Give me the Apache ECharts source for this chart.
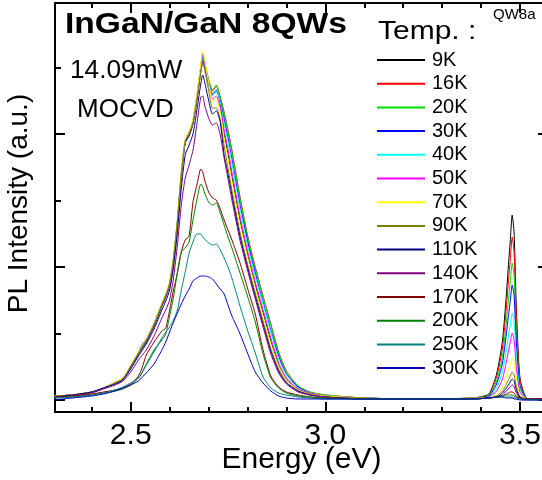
<!DOCTYPE html>
<html>
<head>
<meta charset="utf-8">
<script src="https://cdn.jsdelivr.net/npm/echarts@6/dist/echarts.min.js"></script>
<style>html,body{margin:0;padding:0;background:#fff;}#c{width:542px;height:480px;}</style>
</head>
<body>
<div id="c"></div>
<script>
// Photon energy (eV)
const energy = [2.30,2.35,2.40,2.43,2.46,2.48,2.50,2.52,2.53,2.54,2.56,2.58,2.59,
  2.60,2.61,2.62,2.63,2.64,2.65,2.66,2.67,2.68,2.685,2.69,2.70,2.71,2.72,2.73,
  2.74,2.75,2.76,2.78,2.80,2.82,2.84,2.86,2.88,2.90,2.93,2.96,3.00,3.10,3.20,3.30,
  3.38,3.42,3.44,3.455,3.465,3.47,3.475,3.48,3.485,3.49,3.50,3.52,3.57];

// PL intensity (a.u.) per temperature
const pl9K = [4,5,8,12,17,21,33,46,52,58,74,94,103,
  115,140,177,224,257,264,276,300,328,339,333,316,306,310,297,
  266,246,223,181,146,115,87,59,35,21,10,6,4,2,1,1,
  2,6,26,59,105,133,159,185,167,100,22,1,1];
const pl16K = [4,5,8,12,17,21,33,46,52,58,74,94,103,
  115,140,178,225,258,266,278,303,332,345,337,320,309,314,303,
  288,270,250,205,165,133,104,76,48,29,14,8,5,2,1,1,
  2,5,23,52,93,117,140,163,147,88,20,1,1];
const pl20K = [4,5,8,12,17,21,33,46,52,59,75,95,104,
  116,141,179,226,259,267,279,304,333,346,338,321,310,315,303,
  286,268,248,203,163,131,103,75,47,28,14,8,5,2,1,1,
  2,5,19,44,78,99,118,137,123,74,16,1,1];
const pl30K = [4,5,8,12,17,21,33,46,53,59,75,95,104,
  116,141,179,226,258,266,278,302,331,343,336,318,305,309,299,
  281,262,241,197,159,127,98,70,44,26,13,7,4,2,1,1,
  2,4,16,37,66,83,99,115,104,62,14,1,1];
const pl40K = [4,5,8,12,17,22,34,47,54,60,76,96,105,
  117,142,180,227,259,267,279,303,332,344,336,318,305,310,298,
  277,258,237,193,155,124,96,68,41,25,12,7,4,2,1,1,
  2,3,12,28,50,63,75,87,78,47,10,1,1];
const pl50K = [4,5,8,12,18,22,34,48,56,61,77,96,105,
  117,142,180,228,260,268,280,304,334,346,337,317,301,304,292,
  270,250,228,185,149,118,90,62,37,22,11,7,4,2,1,1,
  2,3,9,21,38,48,58,67,60,36,8,1,1];
const pl70K = [4,5,8,12,18,22,35,48,55,61,77,97,106,
  118,143,181,229,261,269,281,306,336,349,340,318,300,300,288,
  262,241,219,177,143,112,84,56,34,20,10,6,4,2,1,1,
  2,2,6,13,24,30,36,42,38,23,5,1,1];
const pl90K = [4,5,8,12,17,21,34,47,54,60,76,96,105,
  117,142,180,227,259,266,277,301,328,337,330,310,292,292,280,
  254,232,210,169,136,107,79,51,31,18,9,6,3,2,1,1,
  2,2,4,9,16,20,24,28,25,15,3,1,1];
const pl110K = [3,5,8,12,16,20,31,44,50,56,71,90,99,
  110,133,168,212,245,255,266,290,316,325,318,300,286,289,278,
  245,226,205,165,133,104,76,49,29,17,9,5,3,1,1,1,
  1,2,3,7,12,15,18,21,19,11,3,1,1];
const pl140K = [3,4,7,11,15,19,28,40,45,50,64,82,90,
  100,122,155,195,222,235,250,276,303,304,295,282,275,277,265,
  242,221,200,161,130,101,73,46,27,16,8,5,3,1,1,1,
  1,2,3,5,9,11,13,15,13,8,2,1,1];
const pl170K = [2,4,6,8,10,12,16,24,33,45,58,69,72,
  90,110,127,148,160,164,198,215,231,228,220,208,202,200,191,
  180,170,160,138,112,86,50,24,13,8,5,3,2,1,1,1,
  1,2,3,4,6,7,8,8,7,4,2,1,1];
const pl200K = [2,3,5,7,9,11,15,22,28,36,50,60,66,
  84,103,128,148,152,158,180,200,216,213,207,198,195,197,187,
  175,163,152,128,104,78,46,22,12,7,4,3,2,1,1,1,
  1,2,3,4,5,5,5,5,4,3,1,1,0];
const pl250K = [2,3,5,7,10,13,17,22,28,35,48,62,68,
  73,80,90,110,128,147,158,166,166,163,161,157,155,156,150,
  142,133,122,95,70,47,23,12,7,5,3,2,1,1,1,1,
  1,2,3,3,3,3,3,3,2,2,1,0,0];
const pl300K = [0,2,4,6,9,12,15,19,23,27,36,50,58,
  68,78,87,96,104,111,119,122,124,124,124,123,121,116,111,
  106,95,84,67,47,28,17,9,4,2,1,1,1,1,1,1,
  1,2,3,3,2,2,2,2,1,1,0,0,0];

const temps = ['9K','16K','20K','30K','40K','50K','70K','90K','110K','140K','170K','200K','250K','300K'];
const spectra = [pl9K,pl16K,pl20K,pl30K,pl40K,pl50K,pl70K,pl90K,pl110K,pl140K,pl170K,pl200K,pl250K,pl300K];
const colors = ['#000000','#ff0000','#00dd00','#0000ff','#00ffff','#ff00ff','#ffff00','#808000',
  '#000080','#800080','#800000','#008000','#008080','#0000c0'];

// axis ticks
const xMajor = [2.5, 3.0, 3.5];
const xMinor = [2.4, 2.6, 2.7, 2.8, 2.9, 3.1, 3.2, 3.3, 3.4];
const yMajor = [0, 133, 266];
const yMinor = [66.5, 199.5, 332.5];

const FONT = '"Liberation Sans", Arial, Helvetica, sans-serif';
const X_MIN = 2.3055, X_MAX = 3.572, Y_MIN = -12, Y_MAX = 397;

const chart = echarts.init(document.getElementById('c'), null, {renderer: 'canvas'});

function xAx(pos, ticks, len, opts) {
  return Object.assign({
    type: 'value', position: pos, min: X_MIN, max: X_MAX, gridIndex: 0,
    axisLine: {show: true, onZero: false, lineStyle: {color: '#000', width: 2}},
    axisTick: {show: true, inside: true, length: len, customValues: ticks, lineStyle: {color: '#000', width: 2}},
    axisLabel: {show: false},
    splitLine: {show: false}
  }, opts || {});
}
function yAx(pos, ticks, len, opts) {
  return Object.assign({
    type: 'value', position: pos, min: Y_MIN, max: Y_MAX, gridIndex: 0,
    axisLine: {show: true, onZero: false, lineStyle: {color: '#000', width: 2}},
    axisTick: {show: true, inside: true, length: len, customValues: ticks, lineStyle: {color: '#000', width: 2}},
    axisLabel: {show: false},
    splitLine: {show: false}
  }, opts || {});
}

const option = {
  animation: false,
  backgroundColor: '#ffffff',
  grid: {left: 55, top: 3, width: 493, height: 409, containLabel: false, outerBoundsMode: 'none'},
  xAxis: [
    xAx('bottom', xMajor, 10, {
      axisLabel: {show: true, customValues: xMajor, fontSize: 30, fontFamily: FONT, color: '#000', margin: 9,
        formatter: v => v.toFixed(1)},
      name: 'Energy (eV)', nameLocation: 'middle', nameGap: 33, nameMoveOverlap: false,
      nameTextStyle: {fontSize: 30, fontFamily: FONT, color: '#000', verticalAlign: 'top'}
    }),
    xAx('bottom', xMinor, 5),
    xAx('top', xMajor, 10),
    xAx('top', xMinor, 5)
  ],
  yAxis: [
    yAx('left', yMajor, 10, {
      name: 'PL Intensity (a.u.)', nameLocation: 'middle', nameGap: 22, nameRotate: 90, nameMoveOverlap: false,
      nameTextStyle: {fontSize: 28, fontFamily: FONT, color: '#000', padding: [0, 0, 0, 8]}
    }),
    yAx('left', yMinor, 6),
    yAx('right', yMajor, 10),
    yAx('right', yMinor, 6)
  ],
  legend: {
    orient: 'vertical', left: 372, top: 45, itemWidth: 48, itemHeight: 2, itemGap: 3.7,
    selectedMode: false, icon: 'rect',
    textStyle: {fontSize: 20, fontFamily: FONT, color: '#000', padding: [0, 0, 0, 2]},
    data: temps
  },
  graphic: [
    {type: 'text', x: 65, y: 25, scaleX: 1.12, style: {text: 'InGaN/GaN 8QWs', font: 'bold 30px ' + FONT, fill: '#000', align: 'left', verticalAlign: 'middle'}},
    {type: 'text', x: 70, y: 71, scaleX: 1.05, style: {text: '14.09mW', font: '25px ' + FONT, fill: '#000', align: 'left', verticalAlign: 'middle'}},
    {type: 'text', x: 77, y: 110, style: {text: 'MOCVD', font: '26px ' + FONT, fill: '#000', align: 'left', verticalAlign: 'middle'}},
    {type: 'text', x: 378, y: 32, scaleX: 1.2, style: {text: 'Temp. :', font: '25px ' + FONT, fill: '#000', align: 'left', verticalAlign: 'middle'}},
    {type: 'text', x: 493, y: 15, style: {text: 'QW8a', font: '15px ' + FONT, fill: '#000', align: 'left', verticalAlign: 'middle'}}
  ],
  series: temps.map((t, k) => ({
    name: t, type: 'line', xAxisIndex: 0, yAxisIndex: 0,
    data: energy.map((e, i) => [e, spectra[k][i]]),
    symbol: 'none', showSymbol: false, smooth: 0.2, clip: true,
    color: colors[k],
    lineStyle: {color: colors[k], width: 1},
    emphasis: {disabled: true}
  }))
};
chart.setOption(option);
</script>
</body>
</html>
